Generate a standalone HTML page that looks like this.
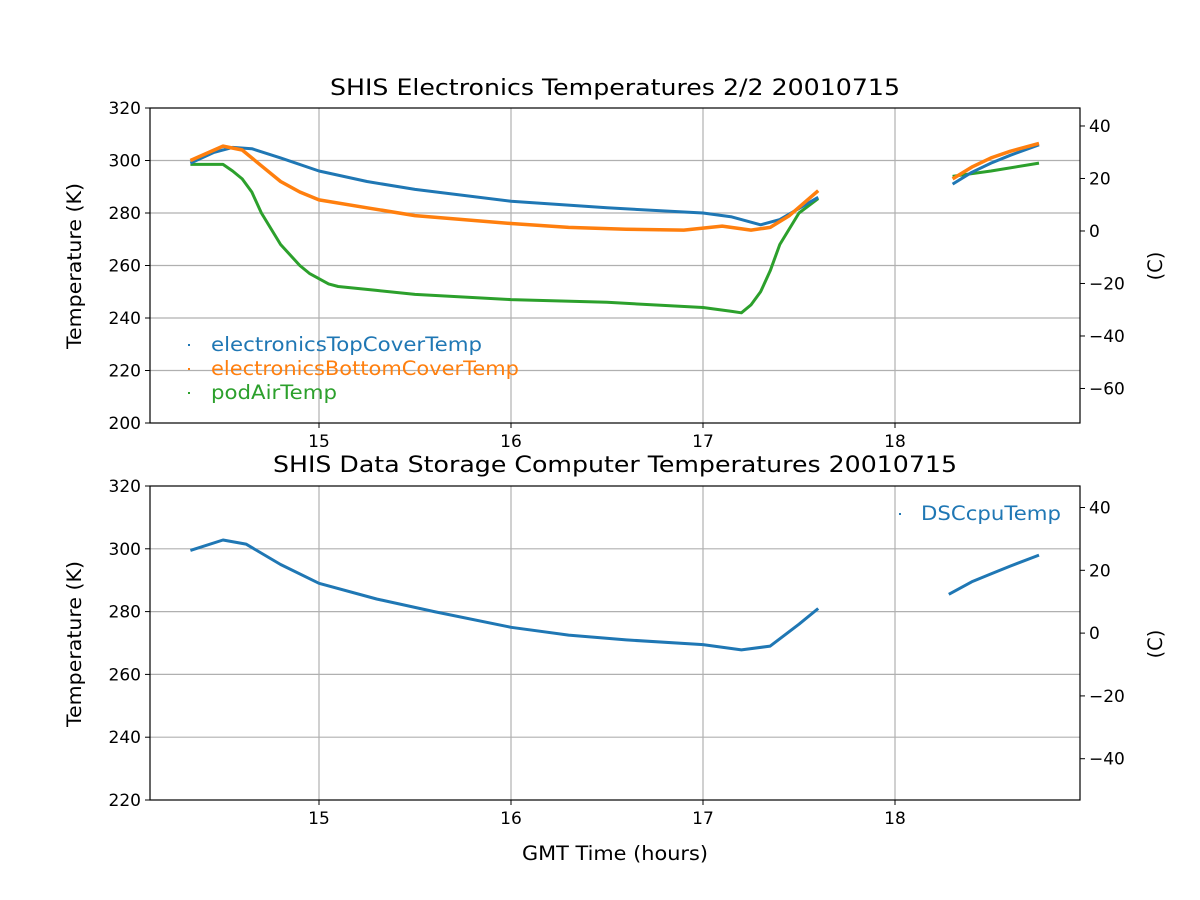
<!DOCTYPE html>
<html><head><meta charset="utf-8"><style>
html,body{margin:0;padding:0;background:#fff}
svg{display:block}
text{font-family:"DejaVu Sans","Liberation Sans",sans-serif;fill:#000}
</style></head><body>
<svg id="s" width="1200" height="900" xmlns="http://www.w3.org/2000/svg">
<rect width="1200" height="900" fill="#fff"/>
<g id="g"></g>
</svg>
<script>
const X=h=>319+(h-15)*192;
const Y1=k=>108+(320-k)*2.625;
const Y2=k=>486+(320-k)*3.14;
let o='';
function grid(top,bot,ys){
 for(const h of [15,16,17,18]) o+=`<line x1="${X(h)}" y1="${top}" x2="${X(h)}" y2="${bot}" stroke="#b0b0b0" stroke-width="1.2"/>`;
 for(const y of ys) o+=`<line x1="150" y1="${y}" x2="1080" y2="${y}" stroke="#b0b0b0" stroke-width="1.2"/>`;
}
grid(108,423,[300,280,260,240,220].map(Y1));
grid(486,800,[300,280,260,240].map(Y2));
function line(pts,Y,c,w){
 o+=`<polyline fill="none" stroke="${c}" stroke-width="${w}" stroke-linejoin="round" points="${pts.map(p=>X(p[0]).toFixed(1)+','+Y(p[1]).toFixed(1)).join(' ')}"/>`;
}
const G='#2ca02c',B='#1f77b4',O='#ff7f0e';
line([[14.33,298.5],[14.5,298.5],[14.55,296],[14.6,293],[14.65,288],[14.7,280],[14.8,268],[14.9,260],[14.95,257],[15.05,253],[15.1,252],[15.3,250.5],[15.5,249],[16,247],[16.5,246],[17,244],[17.15,242.5],[17.2,242],[17.25,245],[17.3,250],[17.35,258],[17.4,268],[17.5,280],[17.6,285.5]],Y1,G,3);
line([[18.3,294],[18.5,296],[18.75,299]],Y1,G,3);
line([[14.33,299],[14.45,303],[14.55,305],[14.65,304.5],[14.8,301],[15,296],[15.25,292],[15.5,289],[16,284.5],[16.5,282],[17,280],[17.15,278.5],[17.3,275.5],[17.4,277.5],[17.6,286]],Y1,B,3);
line([[18.3,291],[18.4,295.5],[18.5,299],[18.6,302],[18.75,306]],Y1,B,3);
line([[14.33,300],[14.5,305.5],[14.6,304],[14.7,298],[14.8,292],[14.9,288],[15,285],[15.25,282],[15.5,279],[16,276],[16.3,274.5],[16.6,273.8],[16.9,273.5],[17.1,275],[17.25,273.5],[17.35,274.5],[17.45,279],[17.6,288.5]],Y1,O,3.5);
line([[18.3,293],[18.4,297.5],[18.5,301],[18.6,303.5],[18.75,306.5]],Y1,O,3.5);
line([[14.33,299.5],[14.5,302.8],[14.62,301.5],[14.8,295],[15,289],[15.3,284],[15.6,280],[16,275],[16.3,272.5],[16.6,271],[17,269.5],[17.2,267.8],[17.35,269],[17.5,276],[17.6,281]],Y2,B,3);
line([[18.28,285.5],[18.4,289.5],[18.5,292],[18.6,294.5],[18.75,298]],Y2,B,3);
o+=`<rect x="150" y="108" width="930" height="315" fill="none" stroke="#000" stroke-width="1.2"/>`;
o+=`<rect x="150" y="486" width="930" height="314" fill="none" stroke="#000" stroke-width="1.2"/>`;
function xt(bot){for(const h of [15,16,17,18]){o+=`<line x1="${X(h)}" y1="${bot}" x2="${X(h)}" y2="${bot+5}" stroke="#000"/><text x="${X(h)}" y="${bot+24}" font-size="17" text-anchor="middle">${h}</text>`;}}
xt(423);xt(800);
function yl(vals,Y){for(const v of vals){const y=Y(v);o+=`<line x1="145" y1="${y}" x2="150" y2="${y}" stroke="#000"/><text x="141" y="${y+6}" font-size="17" text-anchor="end">${v}</text>`;}}
yl([320,300,280,260,240,220,200],Y1);yl([320,300,280,260,240,220],Y2);
function yr(vals,Y){for(const c of vals){const y=Y(c+273.15);o+=`<line x1="1080" y1="${y}" x2="1085" y2="${y}" stroke="#000"/><text x="1089" y="${y+6}" font-size="17">${c<0?'\u2212'+(-c):c}</text>`;}}
yr([40,20,0,-20,-40,-60],Y1);yr([40,20,0,-20,-40],Y2);
o+=`<text x="615" y="95" font-size="22.5" text-anchor="middle" textLength="570" lengthAdjust="spacingAndGlyphs">SHIS Electronics Temperatures 2/2 20010715</text>`;
o+=`<text x="615" y="472" font-size="22.5" text-anchor="middle" textLength="684" lengthAdjust="spacingAndGlyphs">SHIS Data Storage Computer Temperatures 20010715</text>`;
o+=`<text x="615" y="860" font-size="19.5" text-anchor="middle" textLength="186" lengthAdjust="spacingAndGlyphs">GMT Time (hours)</text>`;
o+=`<text transform="translate(81,266) rotate(-90)" font-size="19.5" text-anchor="middle" textLength="166" lengthAdjust="spacingAndGlyphs">Temperature (K)</text>`;
o+=`<text transform="translate(81,644) rotate(-90)" font-size="19.5" text-anchor="middle" textLength="166" lengthAdjust="spacingAndGlyphs">Temperature (K)</text>`;
o+=`<text transform="translate(1162,266) rotate(-90)" font-size="19.5" text-anchor="middle">(C)</text>`;
o+=`<text transform="translate(1162,644) rotate(-90)" font-size="19.5" text-anchor="middle">(C)</text>`;
const leg=[['electronicsTopCoverTemp',B,345,271],['electronicsBottomCoverTemp',O,369,308],['podAirTemp',G,393,126]];
for(const [t,c,y,w] of leg){o+=`<rect x="188" y="${y-1}" width="2" height="2" fill="${c}"/><text x="211" y="${y+6}" font-size="19.5" textLength="${w}" lengthAdjust="spacingAndGlyphs" style="fill:${c}">${t}</text>`;}
o+=`<rect x="899" y="513" width="2" height="2" fill="${B}"/><text x="921" y="520" font-size="19.5" textLength="140" lengthAdjust="spacingAndGlyphs" style="fill:${B}">DSCcpuTemp</text>`;
document.getElementById('g').innerHTML=o;
</script>
</body></html>
